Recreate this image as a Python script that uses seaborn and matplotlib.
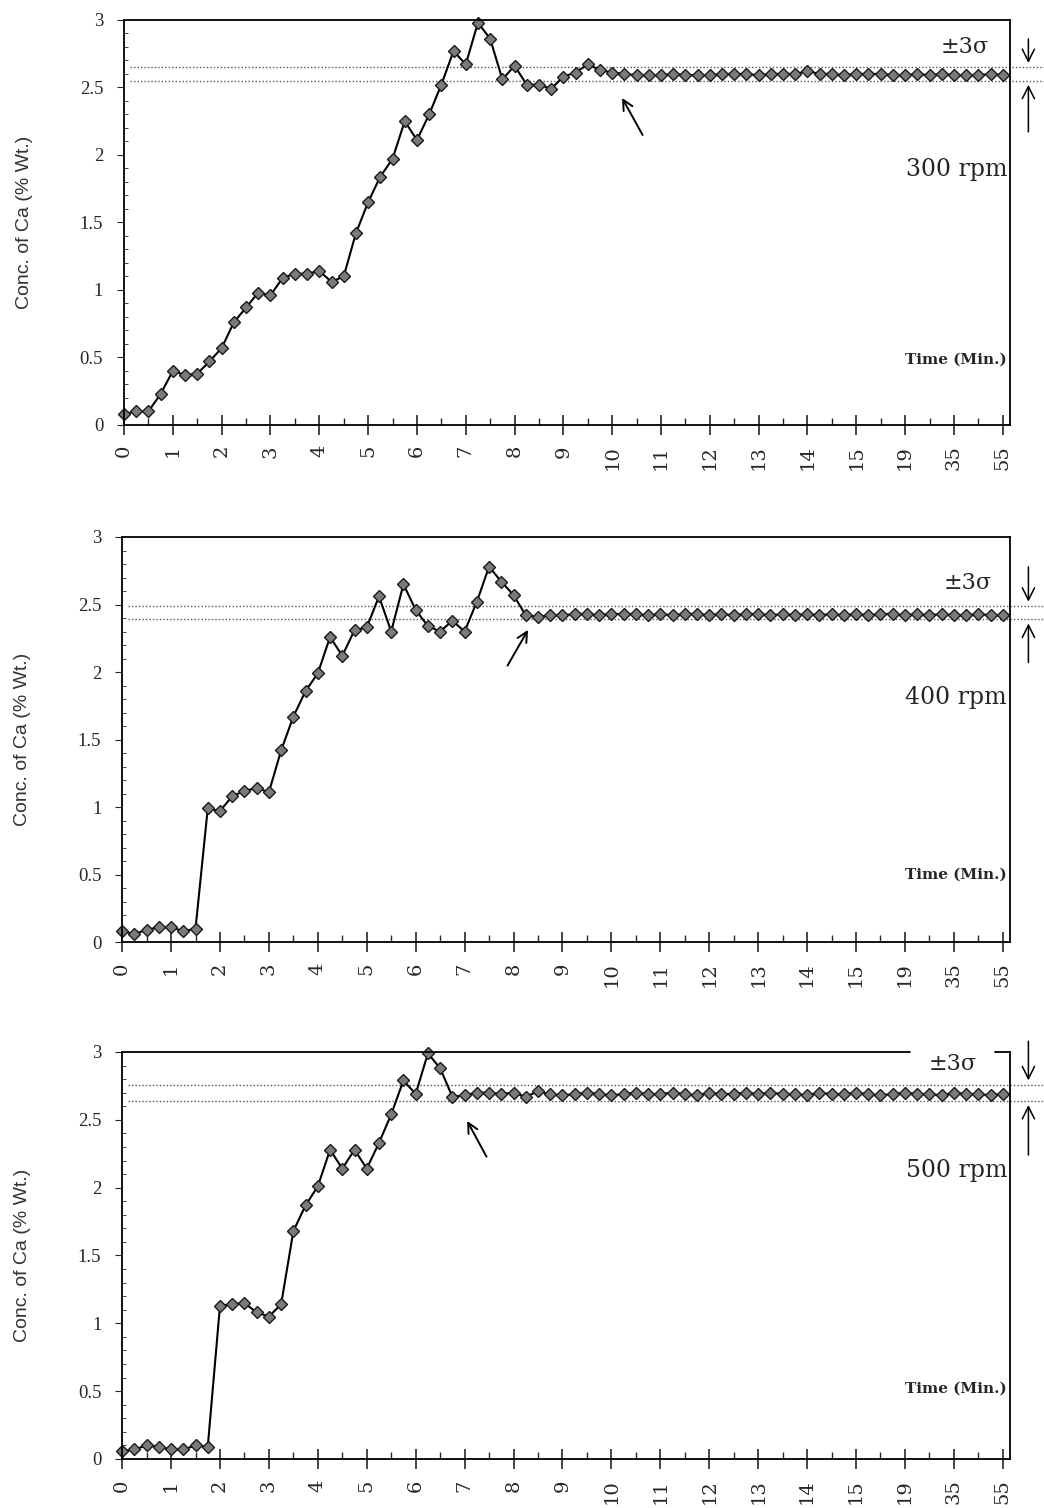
import matplotlib
matplotlib.use('Agg')
import numpy as np
import matplotlib.pyplot as plt
import seaborn as sns

# time axis labels (one label every 4 samples)
time_labels = ['0', '1', '2', '3', '4', '5', '6', '7', '8', '9', '10',
               '11', '12', '13', '14', '15', '19', '35', '55']

# Ca concentration (% wt) for each stirring speed
conc_300 = [0.08, 0.10, 0.10, 0.23, 0.40, 0.37, 0.38, 0.47, 0.57, 0.76,
            0.87, 0.98, 0.96, 1.09, 1.12, 1.12, 1.14, 1.06, 1.10, 1.42,
            1.65, 1.84, 1.97, 2.25, 2.11, 2.30, 2.52, 2.77, 2.67, 2.98,
            2.86, 2.56, 2.66, 2.52, 2.52, 2.49, 2.58, 2.61, 2.67, 2.63,
            2.61, 2.60, 2.59, 2.59, 2.59, 2.60, 2.59, 2.59, 2.59, 2.60,
            2.60, 2.60, 2.59, 2.60, 2.60, 2.60, 2.62, 2.60, 2.60, 2.59,
            2.60, 2.60, 2.60, 2.59, 2.59, 2.60, 2.59, 2.60, 2.59, 2.59,
            2.59, 2.60, 2.59]
conc_400 = [0.08, 0.06, 0.09, 0.11, 0.11, 0.08, 0.10, 0.99, 0.97, 1.08,
            1.12, 1.14, 1.11, 1.42, 1.67, 1.86, 1.99, 2.26, 2.12, 2.31,
            2.33, 2.56, 2.30, 2.65, 2.46, 2.34, 2.30, 2.38, 2.30, 2.52,
            2.78, 2.67, 2.57, 2.42, 2.41, 2.42, 2.42, 2.43, 2.43, 2.42,
            2.43, 2.43, 2.43, 2.42, 2.43, 2.42, 2.43, 2.43, 2.42, 2.43,
            2.42, 2.43, 2.43, 2.42, 2.43, 2.42, 2.43, 2.42, 2.43, 2.42,
            2.43, 2.42, 2.43, 2.43, 2.42, 2.43, 2.42, 2.43, 2.42, 2.42,
            2.43, 2.42, 2.42]
conc_500 = [0.06, 0.07, 0.10, 0.09, 0.07, 0.07, 0.10, 0.09, 1.13, 1.14,
            1.15, 1.08, 1.05, 1.14, 1.68, 1.87, 2.01, 2.28, 2.14, 2.28,
            2.14, 2.33, 2.54, 2.79, 2.69, 2.99, 2.88, 2.67, 2.68, 2.70,
            2.70, 2.69, 2.70, 2.67, 2.71, 2.69, 2.68, 2.69, 2.70, 2.69,
            2.68, 2.69, 2.70, 2.69, 2.69, 2.70, 2.69, 2.68, 2.70, 2.69,
            2.69, 2.70, 2.69, 2.70, 2.69, 2.69, 2.68, 2.70, 2.69, 2.69,
            2.70, 2.69, 2.68, 2.69, 2.70, 2.69, 2.69, 2.68, 2.70, 2.69,
            2.69, 2.68, 2.69]

# +/- 3 sigma limits
band_300 = [2.55, 2.65]
band_400 = [2.39, 2.49]
band_500 = [2.64, 2.76]

rpm_labels = ['300 rpm', '400 rpm', '500 rpm']

sns.set_style('ticks')
plt.rcParams['font.family'] = ['DejaVu Serif']

fig = plt.figure(figsize=(10.44, 15.08), dpi=100)
boxes = [[0.1188, 0.7182, 0.8487, 0.2686],
         [0.1170, 0.3753, 0.8505, 0.2686],
         [0.1170, 0.0325, 0.8505, 0.2699]]

# annotation placement for each panel
layout = [
    dict(rpm_y=1.89, time_y=0.48, sig=(68.9, 2.80), arr=((42.6, 2.13), (40.7, 2.44)),
         down=(2.88, 2.66), up=(2.15, 2.54)),
    dict(rpm_y=1.81, time_y=0.50, sig=(69.1, 2.66), arr=((31.4, 2.03), (33.3, 2.33)),
         down=(2.80, 2.50), up=(2.05, 2.38)),
    dict(rpm_y=2.13, time_y=0.52, sig=(67.9, 2.91), arr=((29.9, 2.21), (28.1, 2.51)),
         down=(3.10, 2.77), up=(2.22, 2.63)),
]

series = [conc_300, conc_400, conc_500]
bands = [band_300, band_400, band_500]
x_right = 72.6

for k in range(3):
    ax = fig.add_axes(boxes[k])
    vals = series[k]
    idx = np.arange(len(vals))
    sns.lineplot(x=idx, y=vals, ax=ax, color='black', linewidth=1.5,
                 marker='D', markersize=6, markerfacecolor='#7a7a7a',
                 markeredgecolor='#1a1a1a', markeredgewidth=1.0)
    for ln in ax.lines:
        ln.set_clip_on(False)

    ax.set_xlim(0, x_right)
    ax.set_ylim(0, 3)

    # sigma band lines, running past the right frame
    for b in bands[k]:
        ax.plot([0.5, 76], [b, b], linestyle=(0, (1, 1.5)), color='#555555',
                linewidth=1.0, clip_on=False, zorder=1)

    ax.set_xticks(np.arange(0, 73, 4))
    ax.set_xticklabels(time_labels, rotation=90, fontsize=14,
                       family='DejaVu Serif')
    ax.set_xticks(np.arange(2, 73, 4), minor=True)
    ax.set_yticks([0, 0.5, 1, 1.5, 2, 2.5, 3])
    ax.set_yticklabels(['0', '0.5', '1', '1.5', '2', '2.5', '3'],
                       fontsize=13.5, family='Liberation Serif')
    ax.set_yticks(np.arange(0, 3.01, 0.1), minor=True)
    ax.tick_params(axis='x', which='major', direction='inout', length=15,
                   width=1.2, pad=7)
    ax.tick_params(axis='x', which='minor', direction='in', length=5, width=1.0)
    ax.tick_params(axis='y', which='major', direction='out', length=5,
                   width=0.8, pad=10)
    ax.tick_params(axis='y', which='minor', direction='in', length=3, width=0.6)

    for s in ax.spines.values():
        s.set_linewidth(1.3)
        s.set_color('black')

    ax.set_xlabel('')
    ax.set_ylabel('Conc. of Ca (% Wt.)', family='Liberation Sans', fontsize=14,
                  color='#333333')
    ax.yaxis.set_label_coords(-0.103, 0.5)

    lay = layout[k]
    ax.text(72.35, lay['rpm_y'], rpm_labels[k], ha='right', va='center',
            fontsize=17, family='DejaVu Serif')
    ax.text(72.35, lay['time_y'], 'Time (Min.)', ha='right', va='center',
            fontsize=11, family='DejaVu Serif', fontweight='bold')
    ax.text(lay['sig'][0], lay['sig'][1], '±3σ', ha='center', va='center',
            fontsize=16, family='DejaVu Serif')

    # arrow marking where the reading settles
    ax.annotate('', xy=lay['arr'][1], xytext=lay['arr'][0],
                arrowprops=dict(arrowstyle='->', color='black', lw=1.4,
                                mutation_scale=18))
    # arrows outside the frame pointing at the band
    for a, b in [lay['down'], lay['up']]:
        ax.annotate('', xy=(74.1, b), xytext=(74.1, a),
                    arrowprops=dict(arrowstyle='->', color='black', lw=1.1,
                                    mutation_scale=22), annotation_clip=False)

    if k == 2:
        # top frame is broken around the sigma label
        ax.spines['top'].set_visible(False)
        ax.plot([0, 64.4], [3, 3], color='black', lw=1.3, clip_on=False)
        ax.plot([71.4, x_right], [3, 3], color='black', lw=1.3, clip_on=False)

fig.savefig('out.png', dpi=100, facecolor='white')
